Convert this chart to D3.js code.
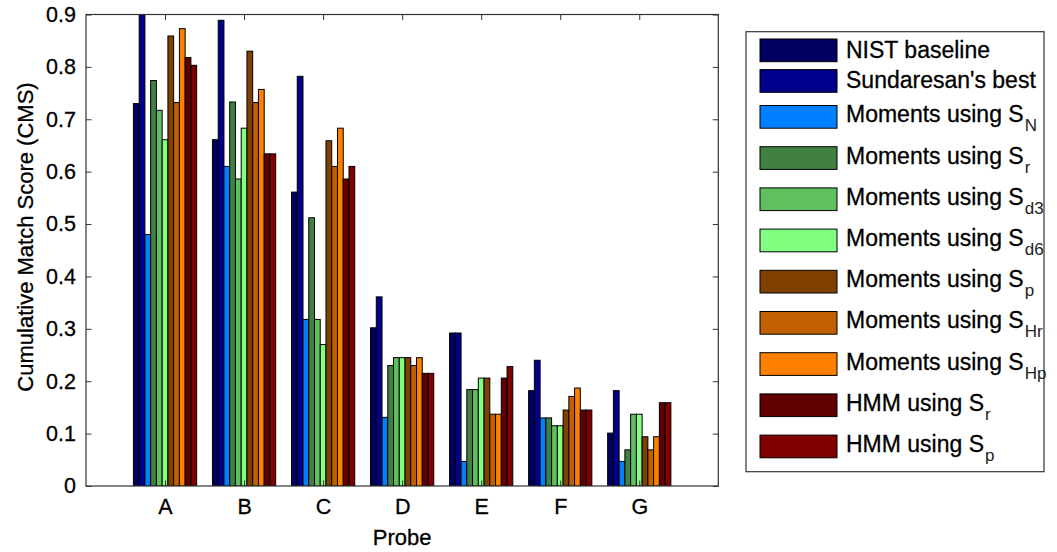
<!DOCTYPE html>
<html><head><meta charset="utf-8">
<script src="https://cdn.jsdelivr.net/npm/d3@7"></script>
<style>
html,body{margin:0;padding:0;background:#fff;}
text{font-family:"Liberation Sans",Arial,Helvetica,sans-serif;fill:#000;stroke:#000;stroke-width:0.3px;}
</style></head>
<body>
<svg id="chart" width="1057" height="552"></svg>
<script>
const categories = ["A","B","C","D","E","F","G"];
const yTicks = [0,0.1,0.2,0.3,0.4,0.5,0.6,0.7,0.8,0.9];
const yTickLabels = ["0","0.1","0.2","0.3","0.4","0.5","0.6","0.7","0.8","0.9"];

const nistBaseline   = [0.730, 0.661, 0.561, 0.302, 0.292, 0.182, 0.101];
const sundaresanBest = [0.900, 0.889, 0.782, 0.361, 0.292, 0.240, 0.182];
const momentsSN      = [0.480, 0.610, 0.318, 0.131, 0.047, 0.130, 0.047];
const momentsSr      = [0.774, 0.733, 0.512, 0.230, 0.184, 0.130, 0.069];
const momentsSd3     = [0.717, 0.586, 0.318, 0.245, 0.184, 0.115, 0.137];
const momentsSd6     = [0.661, 0.683, 0.270, 0.245, 0.206, 0.115, 0.137];
const momentsSp      = [0.859, 0.830, 0.659, 0.245, 0.206, 0.145, 0.094];
const momentsSHr     = [0.732, 0.732, 0.610, 0.230, 0.137, 0.171, 0.069];
const momentsSHp     = [0.873, 0.757, 0.683, 0.245, 0.137, 0.187, 0.094];
const hmmSr          = [0.818, 0.634, 0.586, 0.215, 0.206, 0.145, 0.159];
const hmmSp          = [0.803, 0.634, 0.610, 0.215, 0.228, 0.145, 0.159];

const seriesNames = ["NIST baseline","Sundaresan's best","Moments using S","Moments using S","Moments using S","Moments using S","Moments using S","Moments using S","Moments using S","HMM using S","HMM using S"];
const seriesSubs  = ["","","N","r","d3","d6","p","Hr","Hp","r","p"];
const seriesColors = ["#000060","#00008c","#0080ff","#408040","#60c060","#80ff80","#804000","#c06000","#ff8000","#600000","#800000"];
const seriesValues = [nistBaseline,sundaresanBest,momentsSN,momentsSr,momentsSd3,momentsSd6,momentsSp,momentsSHr,momentsSHp,hmmSr,hmmSp];

const svg = d3.select("#chart");
const L = 86, R = 718.3, T = 14.5, B = 486;

const x = d3.scalePoint().domain(categories).range([L,R]).padding(1);
const y = d3.scaleLinear().domain([0,0.9]).range([B,T]);
const groupW = x.step()*0.8;
const inner = d3.scaleBand().domain(d3.range(seriesValues.length)).range([-groupW/2, groupW/2]);

svg.append("defs").append("clipPath").attr("id","clip")
  .append("rect").attr("x",L).attr("y",T).attr("width",R-L).attr("height",B-T);

const bars = svg.append("g").attr("clip-path","url(#clip)");
seriesValues.forEach((vals,si)=>{
  bars.selectAll(null).data(vals).enter().append("rect")
    .attr("x",(d,i)=>x(categories[i])+inner(si))
    .attr("width",inner.bandwidth())
    .attr("y",d=>y(d))
    .attr("height",d=>y(0)-y(d))
    .attr("fill",seriesColors[si])
    .attr("stroke","#000").attr("stroke-width",1);
});

// frame
svg.append("rect").attr("x",L).attr("y",T).attr("width",R-L).attr("height",B-T)
  .attr("fill","none").attr("stroke","#333").attr("stroke-width",1.2);

// y axis
const yAx = svg.append("g").attr("transform",`translate(${L},0)`)
  .call(d3.axisLeft(y).tickValues(yTicks).tickFormat((d,i)=>yTickLabels[i]).tickSizeInner(-5.5).tickSizeOuter(0).tickPadding(10));
yAx.select(".domain").remove();
yAx.selectAll("line").attr("stroke","#333");
yAx.selectAll("text").attr("font-size","21.5px").attr("fill","#000");
const yAxR = svg.append("g").attr("transform",`translate(${R},0)`)
  .call(d3.axisRight(y).tickValues(yTicks).tickFormat("").tickSizeInner(-5.5).tickSizeOuter(0));
yAxR.select(".domain").remove();
yAxR.selectAll("line").attr("stroke","#333");

// x axis
const xAx = svg.append("g").attr("transform",`translate(0,${B})`)
  .call(d3.axisBottom(x).tickSizeInner(-5.5).tickSizeOuter(0).tickPadding(13));
xAx.select(".domain").remove();
xAx.selectAll("line").attr("stroke","#333");
xAx.selectAll("text").attr("font-size","21.5px").attr("fill","#000");
const xAxT = svg.append("g").attr("transform",`translate(0,${T})`)
  .call(d3.axisTop(x).tickFormat("").tickSizeInner(-5.5).tickSizeOuter(0));
xAxT.select(".domain").remove();
xAxT.selectAll("line").attr("stroke","#333");

// axis labels
svg.append("text").attr("x",(L+R)/2).attr("y",545).attr("text-anchor","middle")
  .attr("font-size","22px").text("Probe");
svg.append("text").attr("transform",`translate(33,237) rotate(-90)`)
  .attr("text-anchor","middle").attr("font-size","22px").text("Cumulative Match Score (CMS)");

// legend
const lg = svg.append("g");
lg.append("rect").attr("x",746).attr("y",31.7).attr("width",298).attr("height",440)
  .attr("fill","#fff").attr("stroke","#333").attr("stroke-width",1.2);
const hPlain = 30.6, hSub = 41.2;
let cy = 50.35;
seriesNames.forEach((name,i)=>{
  if(i>0){
    const hp = seriesSubs[i-1] ? hSub : hPlain;
    const hc = seriesSubs[i] ? hSub : hPlain;
    cy += (hp+hc)/2;
  }
  lg.append("rect").attr("x",760).attr("y",cy-11.35).attr("width",77).attr("height",22.7)
    .attr("fill",seriesColors[i]).attr("stroke","#000").attr("stroke-width",1);
  const t = lg.append("text").attr("x",846).attr("y",cy + (seriesSubs[i]?5.5:7.5)).attr("font-size","23px");
  t.append("tspan").text(name);
  if(seriesSubs[i]){
    t.append("tspan").attr("dx",1).attr("dy",9).attr("font-size","17px")
      .style("stroke-width","0px").attr("fill","#222").text(seriesSubs[i]);
  }
});
</script>
</body></html>
